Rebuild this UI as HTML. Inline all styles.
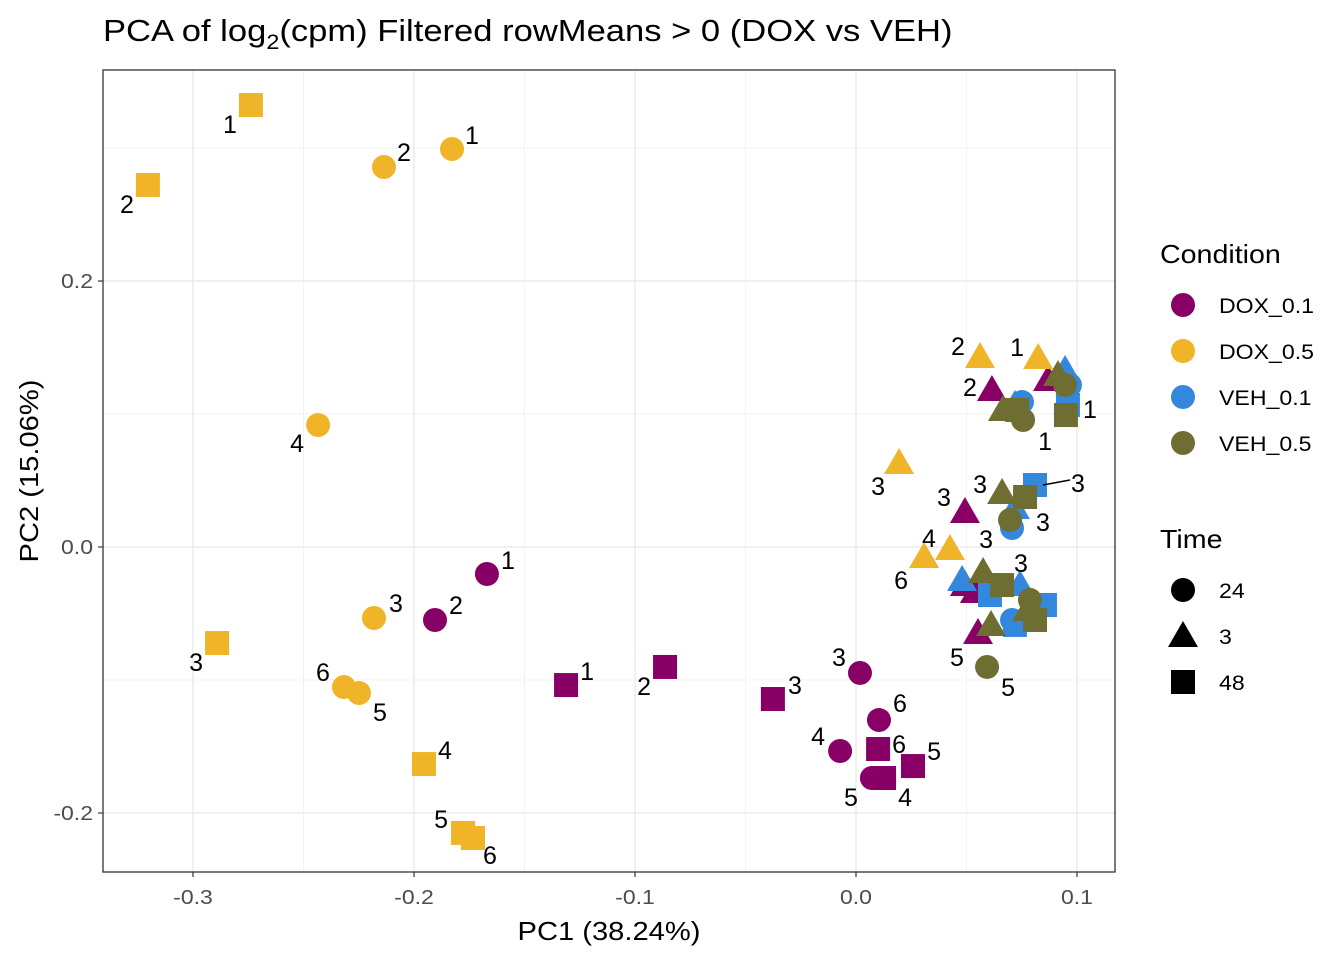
<!DOCTYPE html>
<html><head><meta charset="utf-8"><style>
body{margin:0;background:#fff;}
svg{display:block;font-family:"Liberation Sans",Arial,sans-serif;}
</style></head><body>
<svg id="chart" width="1344" height="960"></svg>
<script>
const xTicks=[-0.3,-0.2,-0.1,0.0,0.1];
const xTickLabels=["-0.3","-0.2","-0.1","0.0","0.1"];
const yTicks=[-0.2,0.0,0.2];
const yTickLabels=["-0.2","0.0","0.2"];
const conditions=["DOX_0.1","DOX_0.5","VEH_0.1","VEH_0.5"];
const condColors=["#880066","#f0b428","#3388dd","#6e6e32"];
const times=["24","3","48"];
// DOX_0.1
const dox01X=[-0.1670,-0.1905,-0.1312,-0.0864,-0.0376,0.0018,0.0104,-0.0072,0.0100,0.0258,0.0072,0.0127,0.0615,0.0493,0.0869,0.0493,0.0538,0.0552];
const dox01Y=[-0.0203,-0.0549,-0.1038,-0.0902,-0.1143,-0.0947,-0.1301,-0.1534,-0.1519,-0.1647,-0.1737,-0.1737,0.1180,0.0263,0.1256,-0.0286,-0.0338,-0.0647];
const dox01T=["24","24","48","48","48","24","24","24","48","48","24","48","3","3","3","3","3","3"];
const dox01L=["1","2","1","2","3","3","6","4","6","5","5","4","2","3","","","","5"];
// DOX_0.5
const dox05X=[-0.2738,-0.3204,-0.2136,-0.1828,-0.2434,-0.2181,-0.2317,-0.2249,-0.2891,-0.1955,-0.1778,-0.1733,0.0195,0.0308,0.0425,0.0561,0.0824];
const dox05Y=[0.3323,0.2722,0.2857,0.2992,0.0917,-0.0534,-0.1053,-0.1098,-0.0722,-0.1632,-0.2150,-0.2188,0.0632,-0.0075,-0.0015,0.1429,0.1421];
const dox05T=["48","48","24","24","24","24","24","24","48","48","48","48","3","3","3","3","3"];
const dox05L=["1","2","2","1","4","3","6","5","3","4","5","6","3","6","4","2","1"];
// VEH_0.1
const veh01X=[0.0946,0.0968,0.0959,0.0751,0.0719,0.0810,0.0719,0.0706,0.0480,0.0606,0.0742,0.0855,0.0706,0.0719];
const veh01Y=[0.1331,0.1218,0.1068,0.1090,0.1068,0.0466,0.0293,0.0143,-0.0248,-0.0361,-0.0286,-0.0436,-0.0549,-0.0586];
const veh01T=["3","24","48","24","3","48","3","24","3","48","3","48","24","48"];
const veh01L=["","","1","","","3","3","3","","","3","","",""];
// VEH_0.5
const veh05X=[0.0914,0.0946,0.0950,0.0665,0.0729,0.0756,0.0661,0.0765,0.0697,0.0575,0.0661,0.0787,0.0774,0.0810,0.0611,0.0593];
const veh05Y=[0.1293,0.1218,0.0992,0.1030,0.1030,0.0955,0.0406,0.0376,0.0203,-0.0188,-0.0286,-0.0398,-0.0474,-0.0549,-0.0586,-0.0902];
const veh05T=["3","24","48","3","48","24","3","48","24","3","48","24","3","48","3","24"];
const veh05L=["","","","","","1","3","","","","","","","","","5"];
// label offsets (styling, pixels)
const offDox01=[[21,-14],[21,-15],[21,-14],[-21,19],[22,-14],[-21,-16],[21,-17],[-22,-15],[21,-5],[21,-15],[-21,19],[21,19],[-22,-3],[-21,-15],[0,0],[0,0],[0,0],[-21,24]];
const offDox05=[[-21,19],[-21,19],[20,-15],[20,-14],[-21,18],[22,-15],[-21,-15],[21,19],[-21,19],[21,-14],[-22,-14],[17,17],[-21,23],[-23,23],[-21,-11],[-22,-11],[-21,-11]];
const offVeh01=[[0,0],[0,0],[22,4],[0,0],[0,0],[43,-2],[28,14],[-26,11],[0,0],[0,0],[1,-22],[0,0],[0,0],[0,0]];
const offVeh05=[[0,0],[0,0],[0,0],[0,0],[0,0],[22,21],[-22,-9],[0,0],[0,0],[0,0],[0,0],[0,0],[0,0],[0,0],[0,0],[21,20]];

const NS="http://www.w3.org/2000/svg";
const svg=document.getElementById("chart");
const L=103,R=1115,T=70,B=872;
const sx=v=>856+v*2210;
const sy=v=>547-v*1330;
function mk(tag,attrs,parent){const e=document.createElementNS(NS,tag);for(const k in attrs)e.setAttribute(k,attrs[k]);(parent||svg).appendChild(e);return e;}
function widen(e,f){const w=e.getComputedTextLength();e.setAttribute("textLength",w*f);e.setAttribute("lengthAdjust","spacingAndGlyphs");}

// title
let t=mk("text",{x:103,y:41,"font-size":31,fill:"#000"});


t.innerHTML='PCA of log<tspan font-size="21" dy="8">2</tspan><tspan dy="-8">(cpm) Filtered rowMeans &gt; 0 (DOX vs VEH)</tspan>';
t.setAttribute("transform","translate(103 0) scale(1.115 1) translate(-103 0)");

// grid
const grid=mk("g",{});


[-0.35,-0.25,-0.15,-0.05,0.05].forEach(v=>{const x=sx(v);if(x>L&&x<R)mk("line",{x1:x,x2:x,y1:T,y2:B,stroke:"#f3f3f3","stroke-width":1},grid);});
[-0.1,0.1,0.3].forEach(v=>mk("line",{x1:L,x2:R,y1:sy(v),y2:sy(v),stroke:"#f3f3f3","stroke-width":1},grid));
xTicks.forEach(v=>mk("line",{x1:sx(v),x2:sx(v),y1:T,y2:B,stroke:"#ebebeb","stroke-width":1.5},grid));
yTicks.forEach(v=>mk("line",{x1:L,x2:R,y1:sy(v),y2:sy(v),stroke:"#ebebeb","stroke-width":1.5},grid));

// ticks
xTicks.forEach((v,i)=>{
  mk("line",{x1:sx(v),x2:sx(v),y1:B,y2:B+5,stroke:"#333","stroke-width":1.2});
  const e=mk("text",{x:sx(v),y:B+32,"text-anchor":"middle","font-size":20,fill:"#4d4d4d"});
  
  
  e.textContent=xTickLabels[i];
  widen(e,1.15);
});
yTicks.forEach((v,i)=>{
  mk("line",{x1:L-5,x2:L,y1:sy(v),y2:sy(v),stroke:"#333","stroke-width":1.2});
  const e=mk("text",{x:L-10,y:sy(v)+7,"text-anchor":"end","font-size":20,fill:"#4d4d4d"});
  
  
  e.textContent=yTickLabels[i];
  widen(e,1.15);
});
let xt=mk("text",{x:609,y:940,"text-anchor":"middle","font-size":26,fill:"#000"});


xt.textContent="PC1 (38.24%)";
widen(xt,1.12);
let yt=mk("text",{x:38,y:471,"text-anchor":"middle","font-size":26,fill:"#000",transform:"rotate(-90 38 471)"});


yt.textContent="PC2 (15.06%)";
widen(yt,1.12);

function shape(parent,cx,cy,time,color){
  let e;
  if(time==="24") e=mk("circle",{cx:cx,cy:cy,r:12,fill:color},parent);
  else if(time==="3") e=mk("polygon",{points:`${cx},${cy-15} ${cx-15},${cy+11} ${cx+15},${cy+11}`,fill:color},parent);
  else e=mk("rect",{x:cx-12,y:cy-12,width:24,height:24,fill:color},parent);
  return e;
}
const series=[[dox01X,dox01Y,dox01T,dox01L,offDox01],[dox05X,dox05Y,dox05T,dox05L,offDox05],[veh01X,veh01Y,veh01T,veh01L,offVeh01],[veh05X,veh05Y,veh05T,veh05L,offVeh05]];
const pts=mk("g",{});


const labs=mk("g",{});


series.forEach((s,si)=>{
  const [xs,ys,ts,ls,os]=s;
  xs.forEach((v,i)=>{
    const cx=sx(v),cy=sy(ys[i]);
    const p=shape(pts,cx,cy,ts[i],condColors[si]);
    
    
    if(ls[i]){
      const o=os[i];
      if(Math.abs(o[0])>35) mk("line",{x1:cx+8,y1:cy,x2:cx+o[0]-8,y2:cy+o[1]-3,stroke:"#000","stroke-width":1.5},labs);
      const e=mk("text",{x:cx+o[0],y:cy+o[1]+9,"text-anchor":"middle","font-size":25,fill:"#000"},labs);
      
      
      e.textContent=ls[i];
    }
  });
});
svg.appendChild(labs);
// panel border
mk("rect",{x:L,y:T,width:R-L,height:B-T,fill:"none",stroke:"#333","stroke-width":1.3});

// legend
const lg=mk("g",{});


let lt=mk("text",{x:1160,y:263,"font-size":26,fill:"#000"},lg);
lt.textContent="Condition";
widen(lt,1.1);
conditions.forEach((c,i)=>{
  const y=305+i*46;
  const m=mk("circle",{cx:1183,cy:y,r:12,fill:condColors[i]},lg);
  
  
  const e=mk("text",{x:1219,y:y+8,"font-size":21,fill:"#000"},lg);
  
  
  e.textContent=c;
  widen(e,1.1);
});
let lt2=mk("text",{x:1160,y:548,"font-size":26,fill:"#000"},lg);
lt2.textContent="Time";
widen(lt2,1.1);
times.forEach((tm,i)=>{
  const y=590+i*46;
  const m=shape(lg,1183,y,tm,"#000");
  
  
  const e=mk("text",{x:1219,y:y+8,"font-size":21,fill:"#000"},lg);
  
  
  e.textContent=tm;
  widen(e,1.1);
});
</script>
</body></html>
